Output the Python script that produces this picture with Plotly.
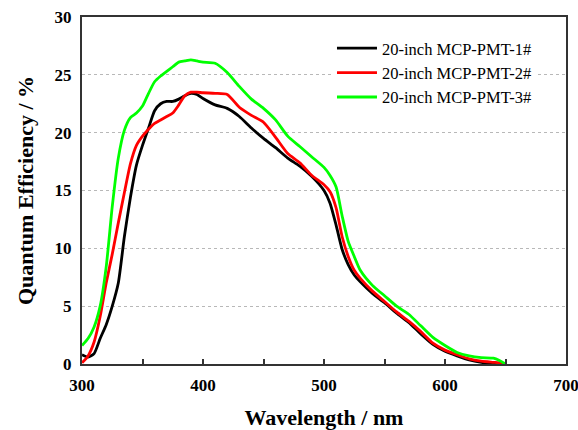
import plotly.graph_objects as go

wavelength = [300, 305, 310, 315, 320, 325, 330, 335, 340, 345, 350, 355, 360, 365, 370,
              375, 380, 385, 390, 395, 400, 410, 420, 430, 440, 450, 460, 470, 480, 490,
              500, 505, 510, 515, 520, 525, 530, 540, 550, 560, 570, 580, 590, 600, 610,
              620, 630, 640, 645, 650]

pmt1 = [0.8, 0.6, 0.9, 2.2, 3.4, 5.0, 7.0, 11.0, 14.4, 17.2, 18.9, 20.4, 21.9, 22.5, 22.7,
        22.7, 22.9, 23.2, 23.4, 23.3, 22.95, 22.4, 22.1, 21.4, 20.4, 19.5, 18.7, 17.8, 17.1, 16.2,
        15.0, 13.9, 12.0, 9.9, 8.6, 7.7, 7.1, 6.1, 5.3, 4.4, 3.6, 2.6, 1.7, 1.1, 0.7,
        0.35, 0.15, 0.05, 0.0, 0.0]

pmt2 = [0.1, 0.7, 1.9, 4.1, 7.0, 9.5, 12.2, 14.8, 17.3, 18.9, 19.7, 20.3, 20.8, 21.1, 21.4,
        21.7, 22.4, 23.2, 23.5, 23.5, 23.45, 23.4, 23.3, 22.2, 21.5, 20.9, 19.6, 18.2, 17.4, 16.3,
        15.5, 14.9, 13.5, 11.0, 9.3, 8.1, 7.4, 6.3, 5.4, 4.5, 3.7, 2.8, 1.8, 1.2, 0.8,
        0.45, 0.25, 0.15, 0.1, 0.0]

pmt3 = [1.6, 2.2, 3.2, 5.0, 8.4, 13.6, 17.8, 20.2, 21.3, 21.7, 22.3, 23.4, 24.4, 24.9, 25.3,
        25.7, 26.1, 26.2, 26.3, 26.2, 26.1, 26.0, 25.2, 24.0, 22.9, 22.1, 21.1, 19.7, 18.8, 17.9,
        17.0, 16.3, 15.3, 12.8, 10.6, 9.3, 8.1, 6.8, 5.9, 5.0, 4.3, 3.3, 2.3, 1.6, 1.0,
        0.7, 0.55, 0.5, 0.3, 0.0]

series_names = ["20-inch MCP-PMT-1#", "20-inch MCP-PMT-2#", "20-inch MCP-PMT-3#"]
series_values = [pmt1, pmt2, pmt3]
series_colors = ["#000000", "#ff0000", "#00ff00"]

fig = go.Figure()
for name, vals, col in zip(series_names, series_values, series_colors):
    fig.add_trace(go.Scatter(x=wavelength, y=vals, mode="lines", name=name,
                             line=dict(color=col, width=2.8, shape="spline", smoothing=0.6)))

font_family = "Liberation Serif, Times New Roman, serif"
fig.update_layout(
    width=578, height=430,
    margin=dict(l=82, r=12, t=17, b=66),
    paper_bgcolor="white", plot_bgcolor="white",
    font=dict(family=font_family, color="#000000"),
    showlegend=True,
    legend=dict(x=0.5165, y=0.96, xanchor="left", yanchor="top",
                bgcolor="white", borderwidth=0,
                font=dict(family=font_family, size=16.5, color="#000000"),
                tracegroupgap=0, itemwidth=40),
)
fig.update_xaxes(
    range=[300, 700], dtick=100, tick0=300, automargin=False,
    ticklabeloverflow="allow",
    showgrid=False, zeroline=False,
    showline=True, linecolor="#333333", linewidth=2, mirror=True,
    ticks="inside", ticklen=5, tickwidth=1.5, tickcolor="#333333",
    minor=dict(dtick=50, ticks="inside", ticklen=5, tickwidth=1.5, tickcolor="#333333"),
    ticklabelstandoff=5,
    tickfont=dict(family=font_family, size=17, color="#000000", weight="bold"),
    title=dict(text="<b>Wavelength / nm</b>", font=dict(family=font_family, size=22)),
)
fig.update_yaxes(
    range=[0, 30], dtick=5, automargin=False,
    ticklabeloverflow="allow",
    showgrid=True, gridcolor="#b8b8b8", gridwidth=1, griddash="dot",
    zeroline=False,
    showline=True, linecolor="#333333", linewidth=2, mirror=True,
    ticks="", ticklabelstandoff=5,
    tickfont=dict(family=font_family, size=17, color="#000000", weight="bold"),
    title=dict(text="<b>Quantum Efficiency / %</b>", font=dict(family=font_family, size=22)),
)

# remove the browser's default 8px body margin so the figure fills the window exactly
fig.write_html("out.html",
               config={"displayModeBar": False},
               post_script="document.body.style.margin='0';document.body.style.overflow='hidden';")
